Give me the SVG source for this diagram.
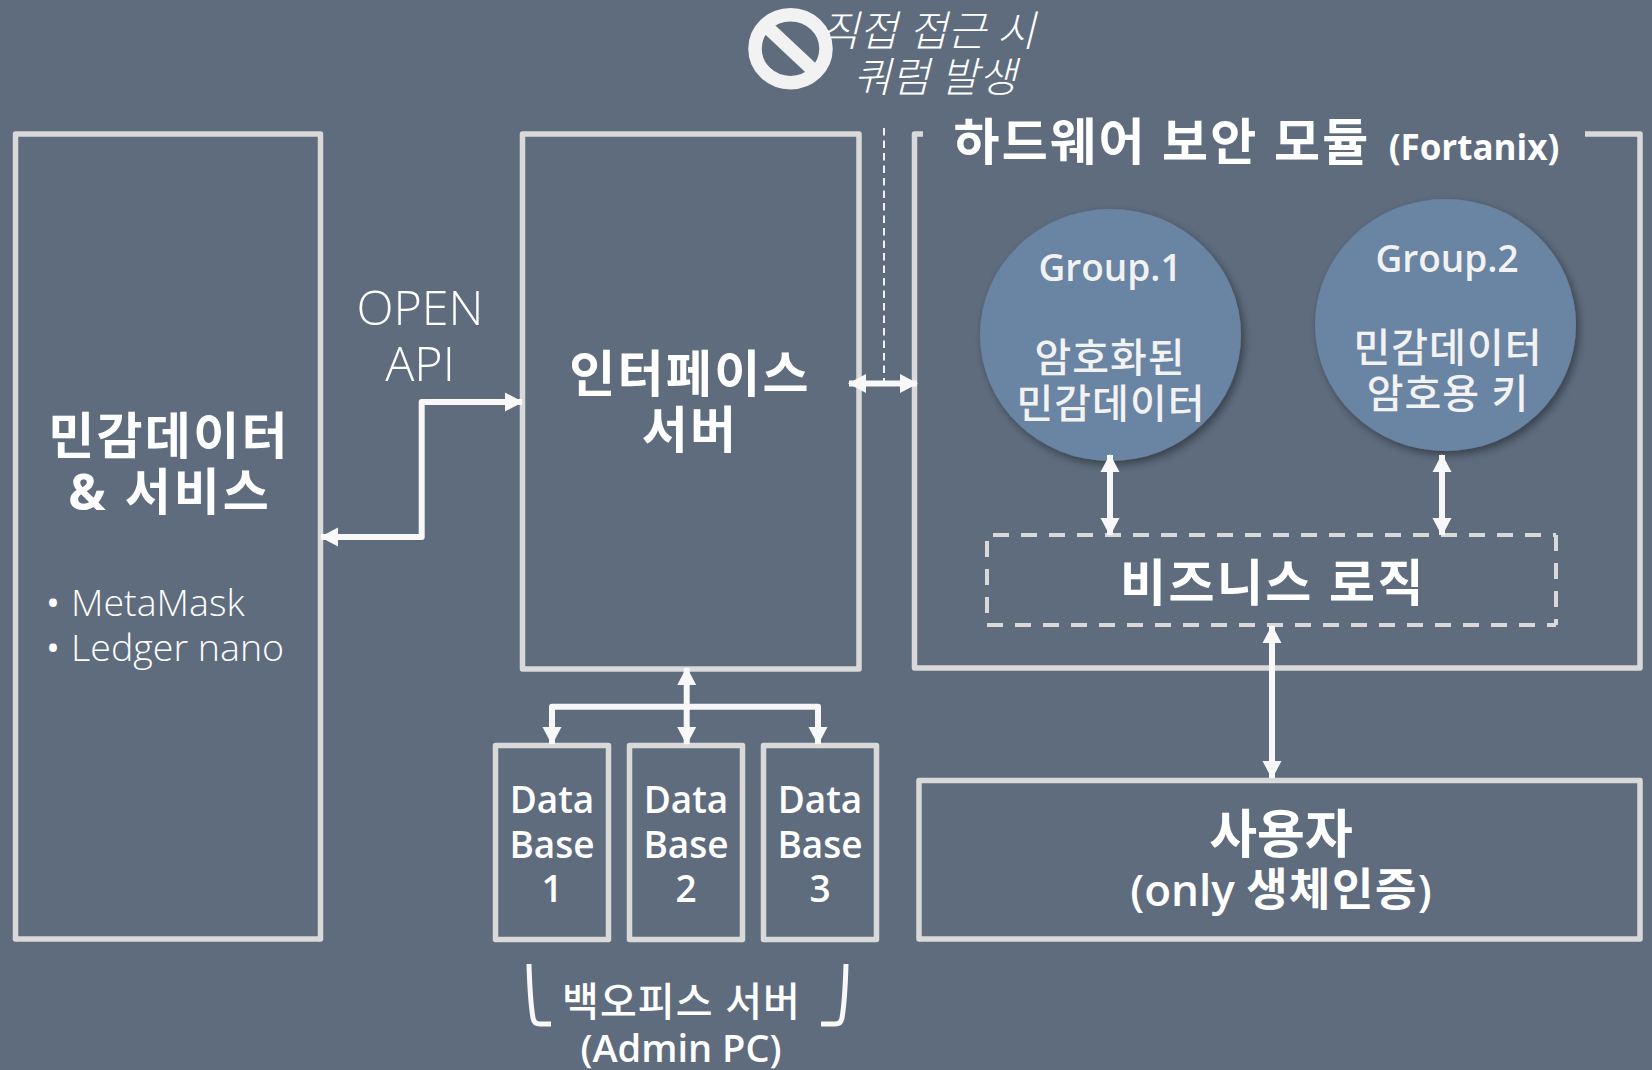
<svg xmlns="http://www.w3.org/2000/svg" width="1652" height="1070" viewBox="0 0 1652 1070">
<style>
text{font-family:"Open Sans","Noto Sans CJK KR",sans-serif;fill:#fff;text-anchor:middle}
.box{fill:none;stroke:#d9d9d9;stroke-width:5.5;stroke-linejoin:round}
.conn{fill:none;stroke:#f8f8f8;stroke-width:6;stroke-linejoin:round}
.dash{fill:none;stroke:#d9d9d9;stroke-width:4;stroke-dasharray:16 12}
.b{font-weight:700}
.s{font-weight:600}
.h{font-size:50px;font-weight:700;letter-spacing:2.3px}
.db{font-size:37px;font-weight:600}
.c{font-size:37px;font-weight:600;fill:#f2f2f2}
.k{font-size:40px;font-weight:500;letter-spacing:1px;fill:#f2f2f2}
.l{font-weight:300}
.st{text-anchor:start}
</style>
<defs>
<marker id="ah" markerUnits="userSpaceOnUse" viewBox="0 0 18 20" refX="17" refY="10" markerWidth="18" markerHeight="20" orient="auto-start-reverse"><path d="M0 .5L18 10L0 19.5Z" fill="#f8f8f8"/></marker>
<filter id="sh" x="-15%" y="-15%" width="130%" height="130%"><feDropShadow dx="3" dy="4" stdDeviation="4" flood-color="#000" flood-opacity="0.4"/></filter>
</defs>
<rect width="1652" height="1070" fill="#5e6c7e"/>
<g id="node-sensitive">
<rect class="box" x="15.5" y="134" width="305" height="805"/>
<text class="h" x="169" y="454">민감데이터</text>
<text class="h" x="170" y="510" style="letter-spacing:3px">&amp; 서비스</text>
<text x="53" y="616" font-size="37">•</text>
<text class="l st" x="71" y="616" font-size="37.6">MetaMask</text>
<text x="53" y="661" font-size="37">•</text>
<text class="l st" x="71" y="661" font-size="37.6">Ledger nano</text>
</g>
<g id="node-interface">
<rect class="box" x="522.5" y="134" width="336.5" height="535"/>
<text class="h" x="690" y="392">인터페이스</text>
<text class="h" x="690" y="448">서버</text>
</g>
<g id="node-db1"><rect class="box" x="495.5" y="745.5" width="113" height="194"/>
<text class="db" x="552" y="813">Data</text><text class="db" x="552" y="858">Base</text><text class="db" x="552" y="902">1</text></g>
<g id="node-db2"><rect class="box" x="629.5" y="745.5" width="113" height="194"/>
<text class="db" x="686" y="813">Data</text><text class="db" x="686" y="858">Base</text><text class="db" x="686" y="902">2</text></g>
<g id="node-db3"><rect class="box" x="763.5" y="745.5" width="113" height="194"/>
<text class="db" x="820" y="813">Data</text><text class="db" x="820" y="858">Base</text><text class="db" x="820" y="902">3</text></g>
<g id="node-backoffice">
<path d="M529 964Q530 1000 533 1018Q534 1024 540 1024H551M846 964Q845 1000 842 1018Q841 1024 835 1024H821" fill="none" stroke="#f8f8f8" stroke-width="5"/>
<text x="681.5" y="1016" font-size="40" font-weight="500" style="letter-spacing:1.1px">백오피스 서버</text>
<text class="s" x="681" y="1062" font-size="38">(Admin PC)</text>
</g>
<g id="node-hsm">
<path class="box" d="M923 134H914.5V668H1640V134H1585"/>
<text class="b" x="1162" y="160" font-size="50" style="letter-spacing:2.3px">하드웨어 보안 모듈</text>
<text class="b" x="1474" y="160" font-size="35">(Fortanix)</text>
</g>
<g id="node-group1">
<ellipse cx="1110.5" cy="335" rx="130.5" ry="126" fill="#6a84a4" filter="url(#sh)"/>
<text class="c" x="1110" y="281">Group.1</text>
<text class="k" x="1110" y="372">암호화된</text>
<text class="k" x="1111" y="418">민감데이터</text>
</g>
<g id="node-group2">
<ellipse cx="1445.5" cy="325" rx="130.5" ry="126" fill="#6a84a4" filter="url(#sh)"/>
<text class="c" x="1447" y="272">Group.2</text>
<text class="k" x="1448" y="362">민감데이터</text>
<text class="k" x="1448" y="408">암호용 키</text>
</g>
<g id="node-logic">
<path class="dash" d="M993 535H1556M1556 535V625M987 625H1556M987 541V625"/>
<text class="s" x="1273" y="601" font-size="50" style="letter-spacing:2.4px">비즈니스 로직</text>
</g>
<g id="node-user">
<rect class="box" x="919" y="780.5" width="721" height="158.5"/>
<text class="b" x="1281" y="853" font-size="52">사용자</text>
<text class="s" x="1281" y="906"><tspan font-size="44">(only </tspan><tspan font-size="45" style="letter-spacing:1.5px">생체인증</tspan><tspan font-size="44">)</tspan></text>
</g>
<g id="node-warning">
<ellipse cx="790.5" cy="48.7" rx="35.5" ry="34" fill="none" stroke="#f2f2f2" stroke-width="13.5"/>
<path d="M766 26L814 71" stroke="#f2f2f2" stroke-width="13.5" fill="none"/>
<text class="l" x="928" y="46" font-size="42" font-style="italic">직접 접근 시</text>
<text class="l" x="935" y="92" font-size="41.5" font-style="italic">쿼럼 발생</text>
</g>
<g id="label-api">
<text class="l" x="420" y="325" font-size="48.5">OPEN</text>
<text class="l" x="420" y="381" font-size="48.5">API</text>
</g>
<g id="connectors">
<path class="conn" d="M321 537H421.7V402H522" marker-start="url(#ah)" marker-end="url(#ah)"/>
<path d="M884 128V381" fill="none" stroke="#fff" stroke-width="1.8" stroke-dasharray="7.5 5"/>
<path class="conn" d="M849 383.5H917" marker-start="url(#ah)" marker-end="url(#ah)"/>
<path class="conn" d="M686.7 668V744" marker-start="url(#ah)" marker-end="url(#ah)"/>
<path class="conn" d="M552 744V706.7H818V744" marker-start="url(#ah)" marker-end="url(#ah)"/>
<path class="conn" d="M1110 455V535" marker-start="url(#ah)" marker-end="url(#ah)"/>
<path class="conn" d="M1442 455V535" marker-start="url(#ah)" marker-end="url(#ah)"/>
<path class="conn" d="M1272 626V778" marker-start="url(#ah)" marker-end="url(#ah)"/>
</g>
</svg>
